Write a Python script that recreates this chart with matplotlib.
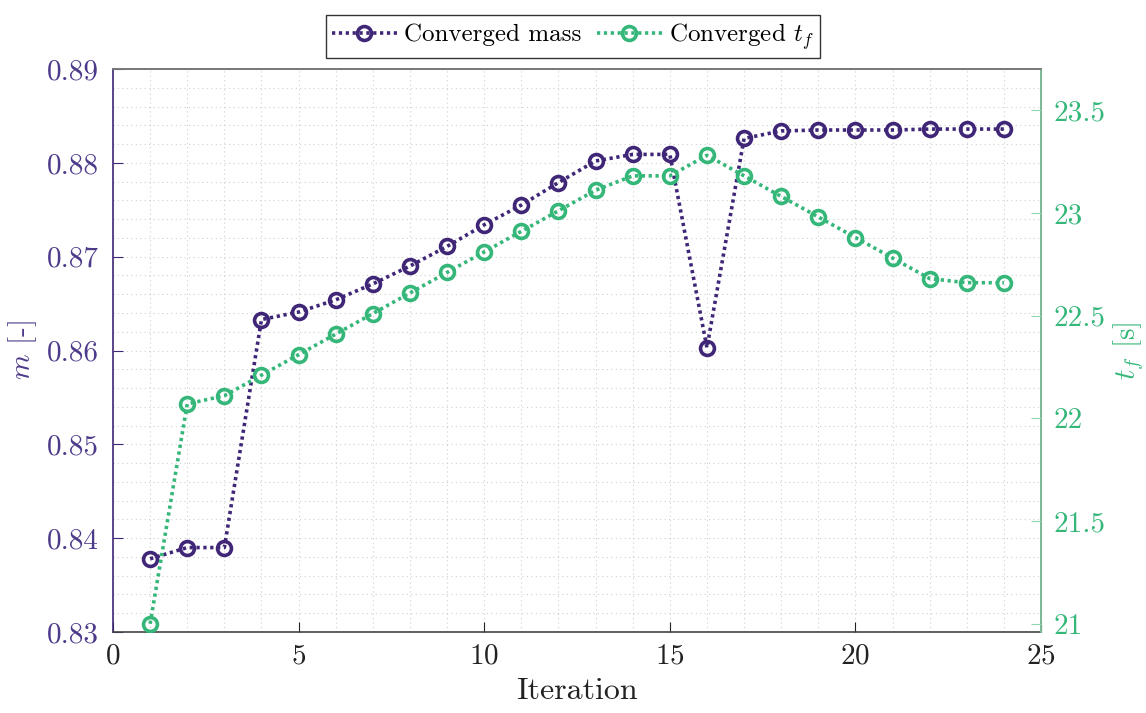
import numpy as np
import matplotlib
matplotlib.use("Agg")
import matplotlib.pyplot as plt
from matplotlib.ticker import MultipleLocator

plt.rcParams['font.family'] = 'serif'
plt.rcParams['font.serif'] = ['cmr10', 'DejaVu Serif']
plt.rcParams['mathtext.fontset'] = 'cm'
plt.rcParams['axes.formatter.use_mathtext'] = True

iteration = np.arange(1, 25)
mass = [0.8378, 0.8390, 0.8390, 0.8633, 0.8641, 0.8654, 0.8671, 0.8690,
        0.8711, 0.8734, 0.8755, 0.8779, 0.8802, 0.8809, 0.8809, 0.8603,
        0.8826, 0.8834, 0.8835, 0.8835, 0.8835, 0.8836, 0.8836, 0.8836]
t_final = [21.00, 22.07, 22.11, 22.21, 22.31, 22.41, 22.51, 22.61,
           22.71, 22.81, 22.91, 23.01, 23.11, 23.18, 23.18, 23.28,
           23.18, 23.08, 22.98, 22.88, 22.78, 22.68, 22.66, 22.66]

purple = '#3f2677'
purple_txt = '#4e3a8a'
green = '#35b779'
green_spine = '#8fd6ae'
dots = (0, (0.9, 1.0))

fig = plt.figure(figsize=(11.46, 7.13), dpi=100)
ax = fig.add_axes([0.0986, 0.1136, 0.8098, 0.7896])
ax2 = ax.twinx()

l1, = ax.plot(iteration, mass, ls=dots, color=purple, lw=2.6, marker='o',
              ms=10, mew=2.6, mfc='none', label='Converged mass')
l2, = ax2.plot(iteration, t_final, ls=dots, color=green, lw=2.6, marker='o',
               ms=10, mew=2.6, mfc='none', label='Converged $t_f$')

ax.set_xlim(0, 25)
ax.set_ylim(0.83, 0.89)
ax2.set_ylim(20.96, 23.7)

ax.xaxis.set_major_locator(MultipleLocator(5))
ax.xaxis.set_minor_locator(MultipleLocator(1))
ax.yaxis.set_major_locator(MultipleLocator(0.01))
ax.yaxis.set_minor_locator(MultipleLocator(0.002))
ax.yaxis.set_major_formatter(matplotlib.ticker.FormatStrFormatter('%.2f'))
ax2.yaxis.set_major_locator(MultipleLocator(0.5))
ax2.yaxis.set_major_formatter(matplotlib.ticker.FuncFormatter(lambda v, p: f'{v:g}'))

ax.grid(True, which='both', ls=(0, (1, 3)), color='#cfcfcf', lw=0.8)
ax.set_axisbelow(True)

ax.tick_params(axis='x', which='major', direction='in', length=7, labelsize=21,
               colors='#222222', pad=8)
ax.tick_params(axis='x', which='minor', length=0)
ax.tick_params(axis='y', which='major', direction='in', length=7, labelsize=21,
               colors=purple, labelcolor=purple_txt, pad=10)
ax.tick_params(axis='y', which='minor', length=0)
ax2.tick_params(axis='y', direction='in', length=7, labelsize=21,
                colors=green_spine, labelcolor=green, pad=9)

ax.spines['left'].set_color(purple)
ax.spines['bottom'].set_color('#444444')
ax.spines['top'].set_color('#777777')
ax2.spines['right'].set_color(green_spine)
ax2.spines['left'].set_visible(False)
ax2.spines['top'].set_color('#777777')
ax2.spines['bottom'].set_visible(False)
for sp in list(ax.spines.values()) + list(ax2.spines.values()):
    sp.set_linewidth(1.2)

ax.set_xlabel('Iteration', fontsize=23, color='#222222', labelpad=6)
ax.set_ylabel('$m$ [-]', fontsize=21, color=purple_txt, labelpad=6)
ax2.set_ylabel('$t_f$ [s]', fontsize=21, color=green, labelpad=4, rotation=90)

leg = fig.legend(handles=[l1, l2], loc='upper center', ncol=2,
                 bbox_to_anchor=(0.5, 0.997), fontsize=18, frameon=True,
                 fancybox=False, edgecolor='black', handlelength=2.6,
                 handletextpad=0.3, columnspacing=0.6, borderpad=0.25)
leg.get_frame().set_linewidth(1.0)

fig.savefig('out.png', dpi=100)
